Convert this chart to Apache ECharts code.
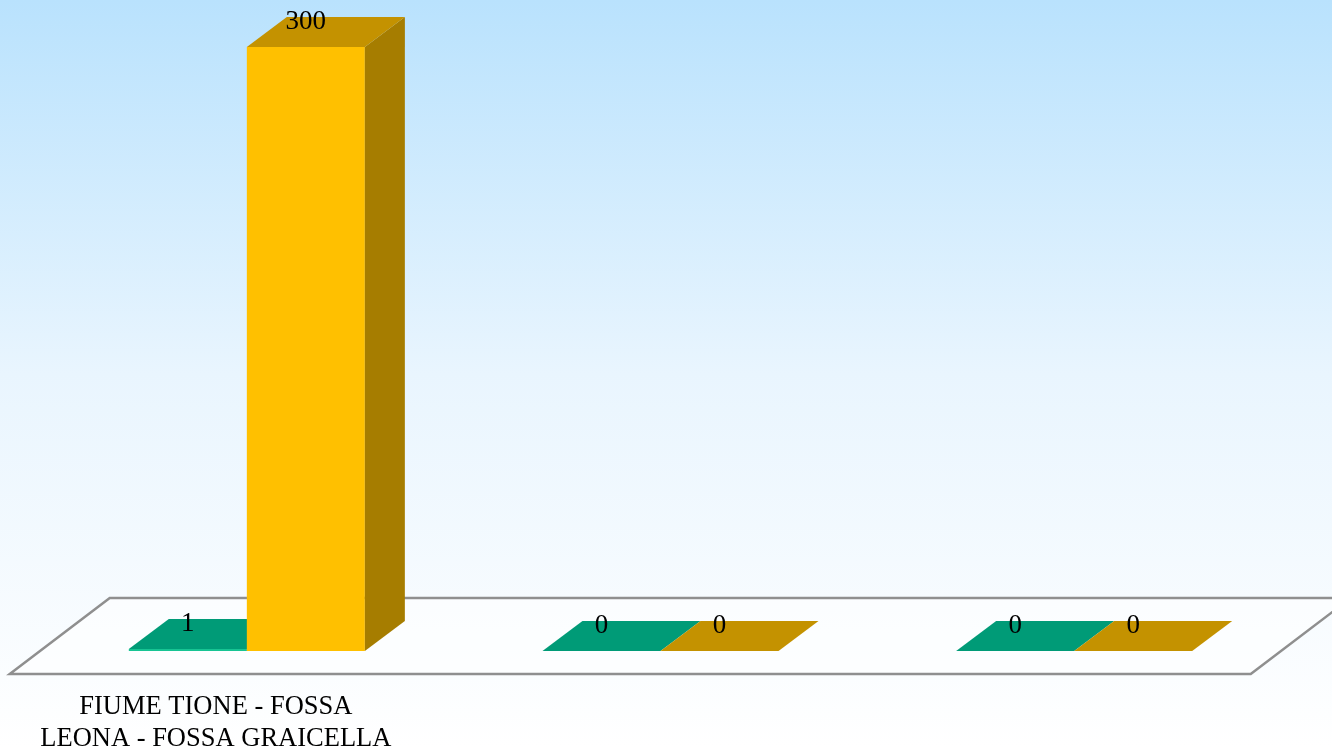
<!DOCTYPE html>
<html>
<head>
<meta charset="utf-8">
<script src="https://cdn.jsdelivr.net/npm/echarts@6/dist/echarts.min.js"></script>
<style>
html,body{margin:0;padding:0;}
#chart{width:1332px;height:748px;}
</style>
</head>
<body>
<div id="chart"></div>
<script>
const categories = ["FIUME TIONE - FOSSA\nLEONA - FOSSA GRAICELLA", "", ""];
const seriesNames = ["Serie 1", "Serie 2"];
const seriesGreen = [1, 0, 0];
const seriesYellow = [300, 0, 0];

const DX = 40, DY = -30; // bar depth offset
const FLOOR_FRONT = 23, FLOOR_BACK = 53; // floor offsets relative to bar-front plane
const SLOPE = 100 / 76;

const palettes = [
  {front: '#17C493', top: '#009B77', side: '#007A5E'},
  {front: '#FFC000', top: '#C49200', side: '#A67D00'}
];

const chart = echarts.init(document.getElementById('chart'));

function makeRender(sIdx) {
  return function (params, api) {
    const idx = api.value(0);
    const val = api.value(1);
    const base = api.coord([idx, 0]);
    const topP = api.coord([idx, val]);
    const bw = api.size([1, 0])[0] * 0.2853;
    const x0 = sIdx === 0 ? base[0] - bw : base[0];
    const x1 = x0 + bw;
    const yb = base[1];
    const yt = topP[1];
    const pal = palettes[sIdx];
    const children = [];
    if (yb - yt > 0.01) {
      children.push({type: 'rect', shape: {x: x0, y: yt, width: bw, height: yb - yt},
        style: {fill: pal.front}});
      children.push({type: 'polygon', shape: {points: [[x1, yt], [x1 + DX, yt + DY], [x1 + DX, yb + DY], [x1, yb]]},
        style: {fill: pal.side}});
    }
    children.push({type: 'polygon', shape: {points: [[x0, yt], [x0 + DX, yt + DY], [x1 + DX, yt + DY], [x1, yt]]},
      style: {fill: pal.top}});
    children.push({type: 'text', style: {text: String(val), x: (x0 + x1) / 2, y: yt + DY + 5,
      align: 'center', verticalAlign: 'middle', fill: '#000',
      font: '27px "Liberation Serif", "Times New Roman", serif'}});
    return {type: 'group', children: children};
  };
}

function renderFloor(params, api) {
  const cs = params.coordSys;
  const yb = cs.y + cs.height;
  const xl = cs.x, xr = cs.x + cs.width;
  const fy = yb + FLOOR_FRONT, by = yb - FLOOR_BACK;
  const fxl = xl - FLOOR_FRONT * SLOPE, fxr = xr - FLOOR_FRONT * SLOPE;
  const bxl = xl + FLOOR_BACK * SLOPE, bxr = xr + FLOOR_BACK * SLOPE;
  return {type: 'polygon', shape: {points: [[fxl, fy], [fxr, fy], [bxr, by], [bxl, by]]},
    style: {fill: 'rgba(255,255,255,0.55)', stroke: '#8f8f8f', lineWidth: 2.5}, z2: 0};
}

chart.setOption({
  backgroundColor: new echarts.graphic.LinearGradient(0, 0, 0, 1, [
    {offset: 0, color: '#B9E2FD'},
    {offset: 0.5, color: '#E9F5FE'},
    {offset: 1, color: '#FFFFFF'}
  ]),
  animation: false,
  grid: {left: 40, right: 51, top: 47, bottom: 97, containLabel: false, outerBoundsMode: 'none'},
  xAxis: {
    type: 'category', data: categories,
    axisLine: {show: false}, axisTick: {show: false}, splitLine: {show: false},
    axisLabel: {
      interval: 0, margin: 40, color: '#000',
      fontFamily: '"Liberation Serif", "Times New Roman", serif', fontSize: 26.5,
      lineHeight: 32, padding: [0, 62, 0, 0]
    }
  },
  yAxis: {type: 'value', min: 0, max: 300, show: false},
  series: [
    {type: 'custom', name: 'floor', data: [[0, 0]], renderItem: renderFloor, silent: true, z: 1},
    {type: 'custom', name: seriesNames[0], data: seriesGreen.map((v, i) => [i, v]), renderItem: makeRender(0), z: 2},
    {type: 'custom', name: seriesNames[1], data: seriesYellow.map((v, i) => [i, v]), renderItem: makeRender(1), z: 3}
  ]
});
</script>
</body>
</html>
